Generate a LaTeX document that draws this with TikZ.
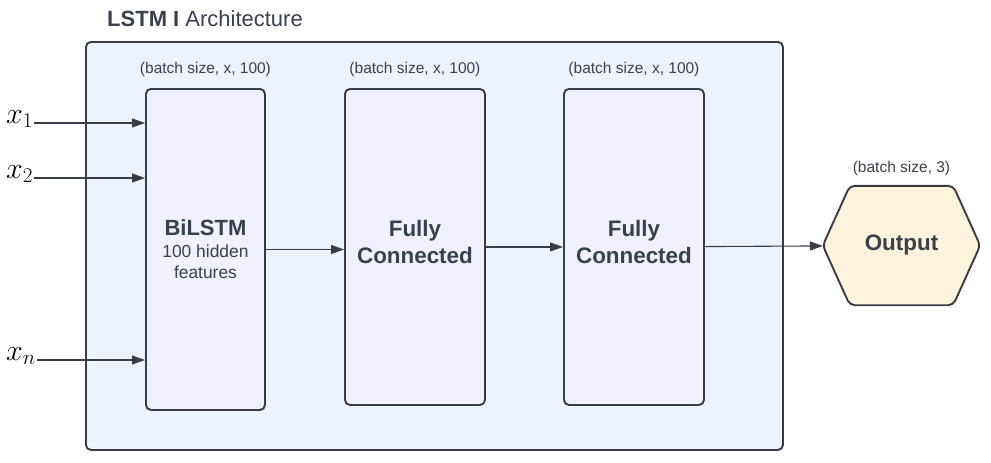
\documentclass[tikz,border=0pt]{standalone}
\usepackage{fontspec}
\setmainfont{Liberation Sans}
\usepackage{amsmath}
\usepackage{fix-cm}
\usetikzlibrary{arrows.meta}
\usetikzlibrary{calc}
\usetikzlibrary{positioning}
\usetikzlibrary{backgrounds}

\definecolor{inkgray}{HTML}{383C46}
\definecolor{textgray}{HTML}{3A414A}
\definecolor{framefill}{HTML}{EDF4FF}
\definecolor{layerfill}{HTML}{F1F1FD}
\definecolor{outfill}{HTML}{FEF3DC}

\begin{document}
\begin{tikzpicture}[
		x=1pt,
		y=1pt,
		font=\fontsize{15.5pt}{18pt}\selectfont,
		>={Triangle[length=13pt,width=9pt]},
	]
		\tikzset{frame/.style={
			draw=inkgray,
			line width=1.9,
			rounded corners=5,
			fill=framefill,
			inner sep=0,
		}}
		\tikzset{layer/.style={
			draw=inkgray,
			line width=1.9,
			rounded corners=5,
			fill=layerfill,
			text=textgray,
			align=center,
			inner sep=0,
			anchor=north west,
			font=\fontsize{17.4pt}{21pt}\selectfont,
		}}
		\tikzset{shape label/.style={
			text=textgray,
			inner sep=0,
		}}
		\tikzset{input/.style={
			anchor=base west,
			inner sep=1,
			font=\fontsize{30pt}{32pt}\selectfont,
		}}
		\tikzset{link/.style={
			->,
			draw=inkgray,
			line width=1.1,
		}}

		\useasboundingbox (0,0) rectangle (991,-463);

		%---------------------------------
		% Frame
		\node[
			frame,
			anchor=north west,
			minimum width=697,
			minimum height=408,
		] (frame) at (85,-41) {};
		\node[
			anchor=west,
			inner sep=0,
			text=textgray,
			font=\fontsize{22pt}{25pt}\selectfont,
		] (title) at (107,-19) {\textbf{LSTM I} Architecture};

		%---------------------------------
		% Layers
		\node[
			layer,
			minimum width=119,
			minimum height=321,
		] (bilstm) at (145,-88) {{\fontsize{22pt}{25pt}\selectfont\bfseries BiLSTM}\\[1pt]100 hidden\\features};
		\node[
			layer,
			minimum width=140,
			minimum height=316,
			text depth=11,
			font=\fontsize{22.4pt}{27pt}\selectfont\bfseries,
		] (dense1) at (344,-88) {Fully\\Connected};
		\node[
			layer,
			minimum width=140,
			minimum height=316,
			text depth=11,
			font=\fontsize{22.4pt}{27pt}\selectfont\bfseries,
		] (dense2) at (563,-88) {Fully\\Connected};

		\node[shape label, above=11 of bilstm] {(batch size, x, 100)};
		\node[shape label, above=11 of dense1] {(batch size, x, 100)};
		\node[shape label, above=11 of dense2] {(batch size, x, 100)};

		%---------------------------------
		% Output
		\node[
			inner sep=0,
			minimum width=157,
			minimum height=119,
			text=textgray,
			font=\fontsize{22.4pt}{24pt}\selectfont\bfseries,
		] (output) at (901.5,-245.5) {Output};
		\begin{scope}[on background layer]
			\draw[
				draw=inkgray,
				line width=1.9,
				rounded corners=5,
				fill=outfill,
			] (output.west) -- ([xshift=27]output.north west) -- ([xshift=-27]output.north east)
			  -- (output.east) -- ([xshift=-27]output.south east) -- ([xshift=27]output.south west) -- cycle;
		\end{scope}
		\node[shape label, above=10 of output] {(batch size, 3)};

		%---------------------------------
		% Inputs
		\node[input] (in1) at (5,-123) {$x_1$};
		\node[input] (in2) at (5,-178) {$x_2$};
		\node[input] (inn) at (5,-360) {$x_n$};

		\draw[link] (in1.base east) -- (in1.base east -| bilstm.west);
		\draw[link] (in2.base east) -- (in2.base east -| bilstm.west);
		\draw[link] (inn.base east) -- (inn.base east -| bilstm.west);

		\draw[link] (bilstm.east) -- (bilstm.east -| dense1.west);
		\draw[link] (dense1) -- (dense2);
		\draw[link] (dense2) -- (output);
	\end{tikzpicture}
\end{document}
